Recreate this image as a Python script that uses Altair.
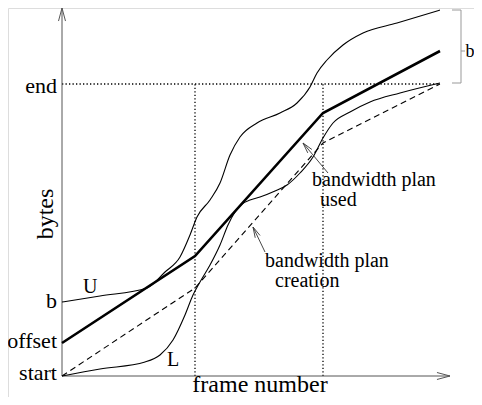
import math
import altair as alt
import pandas as pd

# ---- values (frame-number units across, byte units up) ----
kink_frames = [0, 133, 261, 378]          # start, two plan break points, last frame
used_bytes = [33, 120, 263, 325]          # bandwidth plan used (thick)
creation_bytes = [0, 88, 233, 292]        # bandwidth plan creation (dashed)

u_frames = [0, 38, 85, 103, 118, 128, 135, 148, 158, 168, 178, 195, 218, 235, 248, 255, 265, 281, 301, 335, 378]
u_bytes = [74, 80, 88, 104, 119, 141, 159, 176, 193, 221, 239, 253, 263, 273, 289, 303, 316, 331, 343, 353, 366]

l_frames = [0, 38, 83, 98, 111, 123, 131, 138, 148, 158, 166, 173, 180, 188, 198, 213, 225, 238, 251, 261, 271, 288, 308, 338, 378]
l_bytes = [0, 7, 14, 21, 36, 61, 81, 94, 111, 131, 151, 164, 172, 176, 179, 185, 191, 203, 219, 238, 253, 264, 274, 283, 293]

tick_names = ["start", "offset", "b", "end"]
tick_bytes = [0, 33, 74, 292]
end_bytes = 292
last_frame = 378
b_top, b_bottom = 366, 293

FONT = "Liberation Serif"
W, H = 466, 389
XD = [-54, W - 54]
YD = [368 - H, 368]


def xy(df):
    return dict(
        x=alt.X("x:Q", scale=alt.Scale(domain=XD, nice=False, zero=False), axis=None),
        y=alt.Y("y:Q", scale=alt.Scale(domain=YD, nice=False, zero=False), axis=None),
    )


def segs(rows):
    out = []
    for k, pts in enumerate(rows):
        for i, (x, y) in enumerate(pts):
            out.append({"seg": k, "i": i, "x": x, "y": y})
    return pd.DataFrame(out)


def seg_layer(rows, **mk):
    df = segs(rows)
    return alt.Chart(df).mark_line(**mk).encode(
        **xy(df), detail="seg:N", order="i:O")


def arrow(tail, head, length, ang):
    dx, dy = head[0] - tail[0], head[1] - tail[1]
    n = math.hypot(dx, dy)
    ux, uy = dx / n, dy / n
    res = [[tail, head]]
    for s in (1, -1):
        a = math.radians(ang) * s
        rx = ux * math.cos(a) - uy * math.sin(a)
        ry = ux * math.sin(a) + uy * math.cos(a)
        res.append([head, (head[0] - length * rx, head[1] - length * ry)])
    return res


# axes with arrowheads
axes = seg_layer(arrow((0, 0), (0, 368), 13.5, 15) + arrow((0, 0), (388, 0), 13.5, 15),
                 color="#555", strokeWidth=1)

# dotted guide lines
dotted = seg_layer([[(0, end_bytes), (last_frame, end_bytes)],
                    [(kink_frames[1], 0), (kink_frames[1], end_bytes)],
                    [(kink_frames[2], 0), (kink_frames[2], end_bytes)]],
                   color="#000", strokeWidth=1.3, strokeDash=[1.3, 2.2])

# bracket for b on the right
bracket = seg_layer([[(390, b_top), (399, b_top), (399, b_bottom), (390, b_bottom)],
                     [(399, 325), (403, 325)]],
                    color="#999", strokeWidth=1)

df_u = pd.DataFrame({"x": u_frames, "y": u_bytes})
df_l = pd.DataFrame({"x": l_frames, "y": l_bytes})
df_used = pd.DataFrame({"x": kink_frames, "y": used_bytes})
df_cre = pd.DataFrame({"x": kink_frames, "y": creation_bytes})

u_line = alt.Chart(df_u).mark_line(color="#000", strokeWidth=1.1, interpolate="monotone").encode(**xy(df_u), order="x:Q")
l_line = alt.Chart(df_l).mark_line(color="#000", strokeWidth=1.1, interpolate="monotone").encode(**xy(df_l), order="x:Q")
used_line = alt.Chart(df_used).mark_line(color="#000", strokeWidth=2.6).encode(**xy(df_used), order="x:Q")
cre_line = alt.Chart(df_cre).mark_line(color="#000", strokeWidth=1.1, strokeDash=[6, 4]).encode(**xy(df_cre), order="x:Q")

# annotation arrows
ann_arrows = seg_layer(arrow((266, 203), (241, 233), 11, 14) + arrow((203, 124), (191, 149), 11, 14),
                       color="#333", strokeWidth=0.9)

# tick labels on the byte axis
tick_label_y = [-4, 28, 68, 283]
df_ticks = pd.DataFrame({"x": [-5] * 4, "y": tick_label_y, "t": tick_names})
ticks = alt.Chart(df_ticks).mark_text(font=FONT, fontSize=22, align="right", baseline="alphabetic", color="#000").encode(**xy(df_ticks), text="t:N")

# free text labels
df_txt = pd.DataFrame({
    "x": [21, 105, 250, 258, 203, 213],
    "y": [83, 10, 190, 170, 109, 89],
    "t": ["U", "L", "bandwidth plan", "used", "bandwidth plan", "creation"],
})
txt = alt.Chart(df_txt).mark_text(font=FONT, fontSize=20, align="left", baseline="alphabetic", color="#000").encode(**xy(df_txt), text="t:N")

df_bl = pd.DataFrame({"x": [403.5], "y": [319], "t": ["b"]})
blabel = alt.Chart(df_bl).mark_text(font=FONT, fontSize=18, align="left", baseline="alphabetic", color="#000").encode(**xy(df_bl), text="t:N")

df_xt = pd.DataFrame({"x": [198], "y": [-16], "t": ["frame number"]})
xtitle = alt.Chart(df_xt).mark_text(font=FONT, fontSize=24, align="center", baseline="alphabetic", color="#000").encode(**xy(df_xt), text="t:N")

df_yt = pd.DataFrame({"x": [-9], "y": [162], "t": ["bytes"]})
ytitle = alt.Chart(df_yt).mark_text(font=FONT, fontSize=24, align="center", baseline="alphabetic", angle=270, color="#000").encode(**xy(df_yt), text="t:N")

chart = alt.layer(
    dotted, bracket, axes, cre_line, l_line, u_line, used_line, ann_arrows,
    ticks, txt, blabel, xtitle, ytitle,
).properties(
    width=W, height=H,
    autosize=alt.AutoSizeParams(type="none"),
    padding=0,
).configure_view(stroke=None).configure(background="white")

chart.save("out.html", embed_options={"renderer": "svg", "actions": False})
